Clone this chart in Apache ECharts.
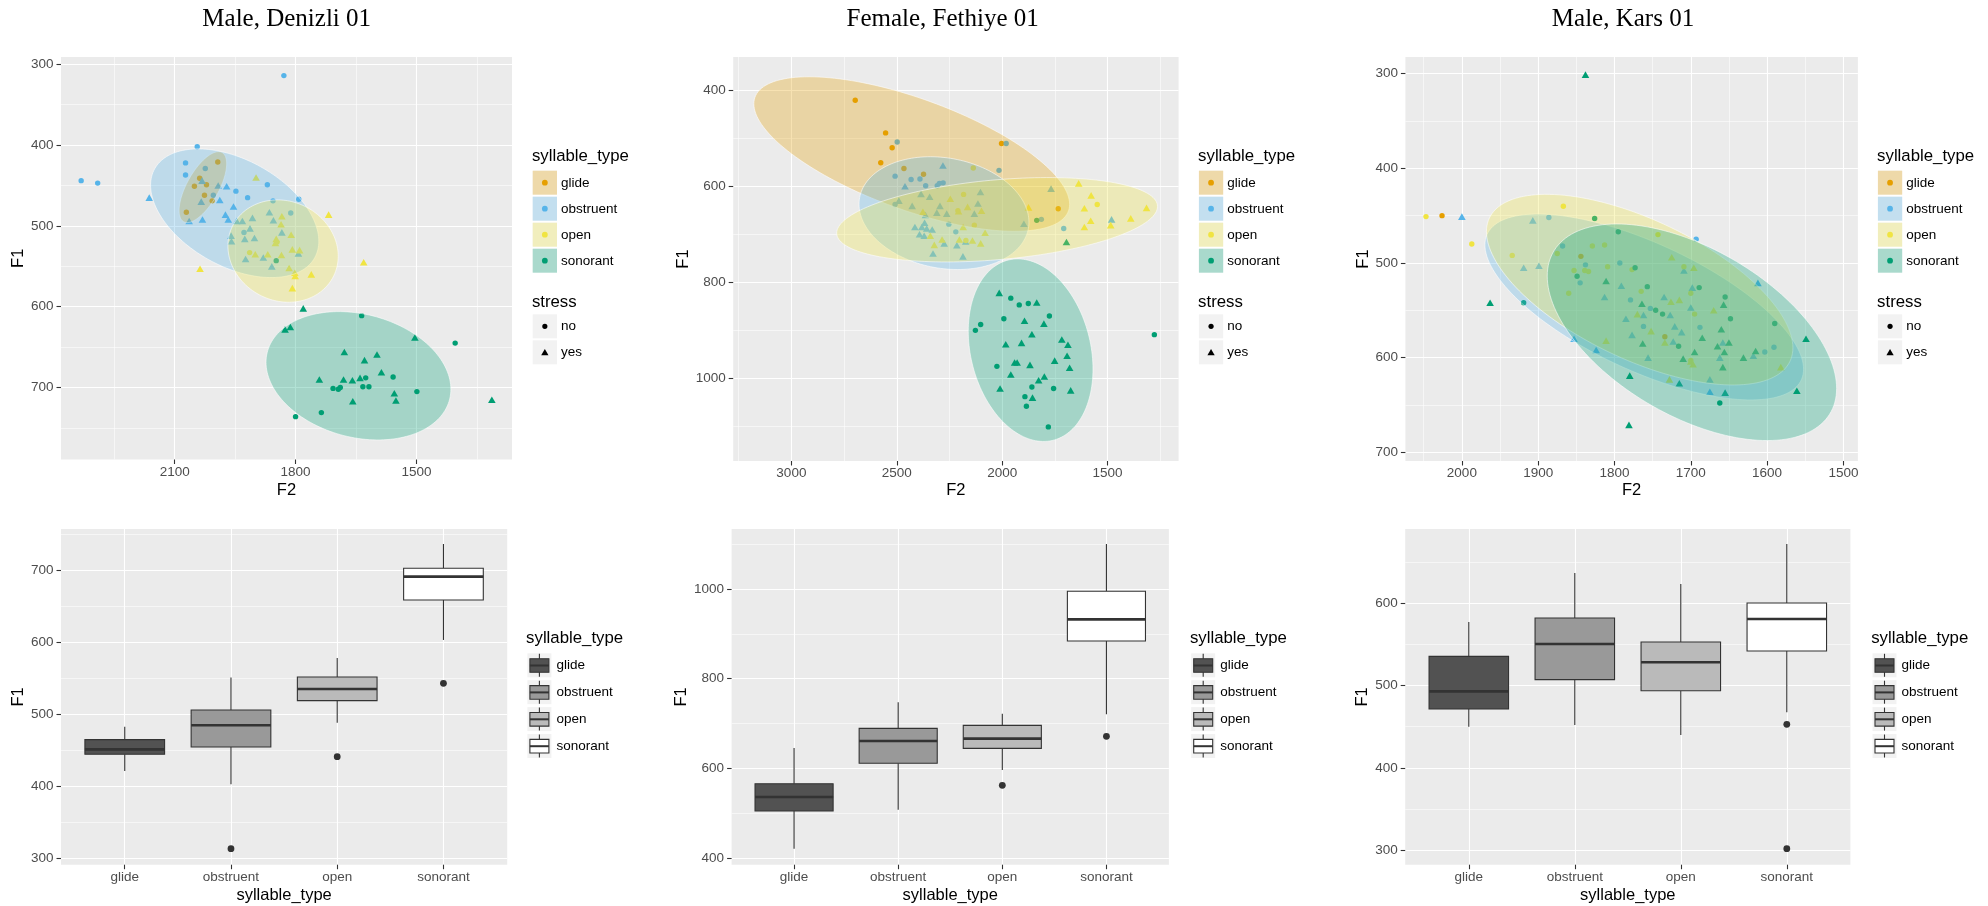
<!DOCTYPE html>
<html>
<head>
<meta charset="utf-8">
<script src="https://cdn.jsdelivr.net/npm/echarts@6/dist/echarts.min.js"></script>
<style>
html,body{margin:0;padding:0;background:#fff;}
#chart{width:1988px;height:906px;}
</style>
</head>
<body>
<div id="chart"></div>
<script>
// ---------------- DATA ----------------
const CATS = ['glide', 'obstruent', 'open', 'sonorant'];
const STRESS = ['no', 'yes'];            // 0 = no (circle), 1 = yes (triangle)
const PANEL_TITLES = ['Male, Denizli 01', 'Female, Fethiye 01', 'Male, Kars 01'];

// tick labels
const p1_xticks = [2100, 1800, 1500];
const p1_yticks = [300, 400, 500, 600, 700];
const p2_xticks = [3000, 2500, 2000, 1500];
const p2_yticks = [400, 600, 800, 1000];
const p3_xticks = [2000, 1900, 1800, 1700, 1600, 1500];
const p3_yticks = [300, 400, 500, 600, 700];
const p4_yticks = [300, 400, 500, 600, 700];
const p5_yticks = [400, 600, 800, 1000];
const p6_yticks = [300, 400, 500, 600];

// scatter points: [F2, F1, stress]
const p1_glide = [[1993,421,0],[2038,441,0],[2051,451,0],[2021,449,0],[2026,462,0],[2007,469,0],[2071,483,0]];
const p1_obstruent = [
  [1829,314,0],[2332,444,0],[2291,447,0],[2044,402,0],[2073,422,0],[2073,437,0],[2024,429,0],[2004,462,0],
  [1948,457,0],[1919,465,0],[1870,449,0],[1856,469,0],[1792,467,0],[1812,484,0],[1928,508,0],
  [2163,465,1],[2032,444,1],[2034,470,1],[2064,494,1],[2031,492,1],[1992,450,1],[1971,451,1],[1988,468,1],
  [1974,486,1],[1967,492,1],[1954,476,1],[1946,494,1],[1960,512,1],[1959,519,1],[1932,494,1],[1926,516,1],
  [1913,503,1],[1907,490,1],[1902,515,1],[1924,541,1],[1865,483,1],[1855,493,1],[1834,508,1],[1880,539,1],
  [1859,550,1],[1793,534,1]];
const p1_open = [
  [1914,533,0],[1846,520,0],
  [1898,440,1],[2037,553,1],[1900,535,1],[1869,535,1],[1834,488,1],[1836,498,1],[1848,516,1],[1850,521,1],
  [1835,536,1],[1811,511,1],[1808,529,1],[1790,530,1],[1816,552,1],[1801,562,1],[1802,558,1],[1808,577,1],
  [1761,560,1],[1718,486,1],[1631,545,1]];
const p1_sonorant = [
  [1848,543,0],[1636,611,0],[1404,645,0],[1707,701,0],[1694,702,0],[1689,700,0],[1633,699,0],[1626,688,0],
  [1618,699,0],[1558,687,0],[1499,705,0],[1736,731,0],[1800,736,0],
  [1781,602,1],[1826,628,1],[1813,625,1],[1679,656,1],[1629,666,1],[1598,659,1],[1504,638,1],[1587,681,1],
  [1741,690,1],[1681,690,1],[1659,691,1],[1640,688,1],[1658,717,1],[1555,707,1],[1551,716,1],[1313,715,1]];

const p2_glide = [[2697,421,0],[2553,489,0],[2522,520,0],[2576,551,0],[2466,563,0],[2373,575,0],[2003,511,0],[1734,647,0]];
const p2_obstruent = [
  [2498,508,0],[1981,511,0],[2015,567,0],[2508,579,0],[2432,586,0],[2390,585,0],[2363,599,0],[2308,599,0],
  [2298,594,0],[2280,593,0],[2508,638,0],[2253,679,0],[2220,695,0],[1708,688,0],[1814,669,0],
  [2281,557,1],[2461,600,1],[2490,630,1],[2385,616,1],[2344,622,1],[2427,641,1],[2310,655,1],[2295,641,1],
  [2263,657,1],[2364,660,1],[2414,685,1],[2381,685,1],[2368,676,1],[2392,700,1],[2370,703,1],[2358,688,1],
  [2332,690,1],[2328,740,1],[2275,719,1],[2215,723,1],[2186,746,1],[2173,715,1],[2115,636,1],[2103,612,1],
  [1897,678,1],[1481,669,1],[2132,657,1],[1768,605,1]];
const p2_open = [
  [2137,562,0],[1549,638,0],[2183,617,0],[2210,651,0],[2132,681,0],[2172,713,0],
  [1637,594,1],[1578,619,1],[1610,646,1],[1580,672,1],[1610,685,1],[1485,681,1],[1390,667,1],[1315,645,1],
  [1875,644,1],[2246,626,1],[2207,652,1],[2164,643,1],[2185,685,1],[2098,651,1],[2376,653,1],[2341,703,1],
  [2322,722,1],[2285,711,1],[2203,711,1],[2141,713,1],[2102,719,1],[2081,697,1]];
const p2_sonorant = [
  [1278,909,0],[1959,833,0],[1919,847,0],[1876,844,0],[1992,876,0],[1776,870,0],[2102,888,0],[2127,900,0],
  [2025,975,0],[1859,1018,0],[1892,1038,0],[1885,1058,0],[1756,1021,0],[1781,1101,0],[1836,671,0],
  [2014,822,1],[1836,842,1],[1894,880,1],[1802,886,1],[1859,908,1],[1983,929,1],[1908,926,1],[1717,919,1],
  [1688,930,1],[1692,953,1],[1751,963,1],[1941,967,1],[1929,967,1],[1868,972,1],[1680,978,1],[1959,992,1],
  [1827,1004,1],[1800,996,1],[2010,1021,1],[1675,1025,1],[1856,1040,1],[1695,716,1]];

const p3_glide = [[2026,450,0],[1844,493,0],[1734,578,0]];
const p3_obstruent = [
  [1886,452,0],[1868,482,0],[1838,502,0],[1845,521,0],[1793,500,0],[1779,539,0],[1762,567,0],[1693,475,0],
  [1688,568,0],[1603,594,0],[1591,589,0],[1753,548,0],
  [2000,451,1],[1907,455,1],[1919,505,1],[1899,503,1],[1853,580,1],[1824,592,1],[1813,536,1],[1791,524,1],
  [1785,559,1],[1777,576,1],[1762,555,1],[1756,600,1],[1735,536,1],[1727,555,1],[1721,567,1],[1723,583,1],
  [1712,573,1],[1709,508,1],[1698,526,1],[1700,547,1],[1675,623,1],[1662,600,1],[1658,584,1],[1618,598,1],
  [1612,521,1],[1675,636,1]];
const p3_open = [
  [2047,451,0],[1987,480,0],[1934,492,0],[1867,440,0],[1875,490,0],[1860,532,0],[1853,508,0],[1839,508,0],
  [1834,509,0],[1829,482,0],[1813,481,0],[1809,504,0],[1777,507,0],[1765,530,0],[1743,470,0],[1709,504,0],
  [1700,532,0],[1695,554,0],[1700,603,0],
  [1725,494,1],[1696,505,1],[1770,554,1],[1752,572,1],[1734,584,1],[1726,541,1],[1715,539,1],[1728,623,1],
  [1700,604,1],[1697,607,1],[1670,550,1],[1582,610,1],[1811,582,1]];
const p3_sonorant = [
  [1826,453,0],[1795,467,0],[1773,505,0],[1849,514,0],[1757,525,0],[1746,550,0],[1737,554,0],[1716,588,0],
  [1689,526,0],[1655,536,0],[1648,559,0],[1590,564,0],[1662,648,0],[1919,542,0],
  [1838,301,1],[1963,542,1],[1781,671,1],[1780,619,1],[1715,627,1],[1655,637,1],[1561,635,1],[1549,580,1],
  [1615,593,1],[1631,600,1],[1650,584,1],[1656,594,1],[1658,610,1],[1665,588,1],[1660,570,1],[1657,544,1],
  [1685,579,1],[1695,594,1],[1710,601,1],[1763,585,1],[1764,543,1],[1811,519,1]];

// 95% data ellipses: [centre F2, centre F1, half-range F2, half-range F1, correlation]
const p1_ellipses = [[2030,452,59,43.9,0.66],[1951,484.3,208.7,79.6,-0.435],[1831,531.1,136.8,63.3,-0.1],[1644,685.4,229.3,79.4,-0.21]];
const p2_ellipses = [[2429,533,749,160.8,-0.65],[2276,656,403,117.4,-0.16],[2024,669.8,761,87.8,0.315],[1865,941.3,295.8,190,-0.207]];
const p3_ellipses = [null,[1761,546.5,208.8,98.2,-0.669],[1767,528.2,200.8,100.7,-0.609],[1698.5,573.2,189.6,114.4,-0.519]];

// boxplot stats per syllable type: [lower whisker, Q1, median, Q3, upper whisker]
const p4_box = [[420.8,444,450.9,464.4,482.4],[402.3,454.2,484.3,505.6,550.5],[488,518.5,534.7,551.4,577.8],[602.8,658.3,690.7,702.3,736.1]];
const p4_outliers = [['obstruent',313],['open',440.7],['sonorant',542.6]];
const p5_box = [[420.8,504.8,536,565.8,645.4],[507.8,611.2,661,689.2,747.2],[596.3,644.6,666.2,695.9,721.9],[720.4,884,932.3,994.8,1100.4]];
const p5_outliers = [['open',562.1],['sonorant',671.4]];
const p6_box = [[450,471.5,493,535.5,577.3],[452,507.2,550.5,582.2,636.9],[439.9,493.8,528.3,553,623.5],[467.5,542,581,600.4,672.2]];
const p6_outliers = [['sonorant',452.9],['sonorant',301.7]];

// ---------------- STYLE / LAYOUT ----------------
const FONT = "'Liberation Sans', Arial, Helvetica, sans-serif";
const SERIF = "'Liberation Serif', 'Times New Roman', serif";
const COLORS = ['#E69F00', '#56B4E9', '#F0E442', '#009E73'];
const BOX_FILLS = ['#525252', '#999999', '#BABABA', '#FFFFFF'];
function rgba(hex, a) { const n = parseInt(hex.slice(1), 16); return 'rgba(' + (n >> 16) + ',' + ((n >> 8) & 255) + ',' + (n & 255) + ',' + a + ')'; }

const scatterPanels = [
  {grid:{left:61, top:57, width:451, height:402.5}, x:[1263,2382], y:[291,789], xStep:300, yStep:100,
   xTicks:p1_xticks, yTicks:p1_yticks, pts:[p1_glide,p1_obstruent,p1_open,p1_sonorant], ells:p1_ellipses,
   xGap:22, yGap:33, title:PANEL_TITLES[0], titleX:286.7, legendX:532.7},
  {grid:{left:733.2, top:57, width:445.4, height:404}, x:[1163,3276], y:[331,1172], xStep:500, yStep:200,
   xTicks:p2_xticks, yTicks:p2_yticks, pts:[p2_glide,p2_obstruent,p2_open,p2_sonorant], ells:p2_ellipses,
   xGap:20.7, yGap:38.8, title:PANEL_TITLES[1], titleX:942.7, legendX:1198.9},
  {grid:{left:1405.4, top:57, width:452.5, height:404}, x:[1481,2074], y:[282.4,709.2], xStep:100, yStep:100,
   xTicks:p3_xticks, yTicks:p3_yticks, pts:[p3_glide,p3_obstruent,p3_open,p3_sonorant], ells:p3_ellipses,
   xGap:20.7, yGap:32, title:PANEL_TITLES[2], titleX:1623, legendX:1877.9}
];
const boxPanels = [
  {grid:{left:61, top:529, width:446.2, height:335.7}, y:[290.7,756.9], yStep:100, yTicks:p4_yticks, box:p4_box, out:p4_outliers, yGap:32, legendX:527.4},
  {grid:{left:731.6, top:529, width:437.3, height:335.7}, y:[385.1,1133.8], yStep:200, yTicks:p5_yticks, box:p5_box, out:p5_outliers, yGap:41.2, legendX:1191.2},
  {grid:{left:1405.2, top:529, width:445.2, height:335.7}, y:[282.2,690.4], yStep:100, yTicks:p6_yticks, box:p6_box, out:p6_outliers, yGap:33.2, legendX:1872.5}
];

function makeAxis(gridIndex, pos, range, step, ticks, inverse, minor, name, gap, fmt) {
  return {
    type: 'value', gridIndex: gridIndex, position: pos, min: range[0], max: range[1], inverse: inverse,
    minInterval: step, maxInterval: step,
    name: name, nameLocation: 'middle', nameGap: gap,
    nameTextStyle: {color: '#000000', fontSize: 16.5, fontFamily: FONT},
    axisLine: {show: false, onZero: false},
    axisTick: {show: true, inside: false, length: 4.5, customValues: ticks, lineStyle: {color: '#333333', width: 1.1}},
    axisLabel: {show: true, customValues: ticks, margin: pos === 'bottom' ? 5.5 : 7.5, color: '#4D4D4D',
      fontSize: 13.5, fontFamily: FONT, formatter: fmt || function (v) { return String(v); }},
    splitLine: {show: true, lineStyle: {color: '#FFFFFF', width: 1.1}},
    minorTick: {show: false, splitNumber: 2},
    minorSplitLine: {show: minor, lineStyle: {color: '#FFFFFF', width: 0.55}},
    splitArea: {show: false}
  };
}

const option = {animation: false, backgroundColor: '#FFFFFF', grid: [], xAxis: [], yAxis: [], series: [], graphic: []};
const G = option.graphic;

function gridOf(g) {
  return Object.assign({show: true, backgroundColor: '#EBEBEB', borderWidth: 0, containLabel: false, outerBoundsMode: 'none'}, g);
}

function txt(x, y, text, size, opts) {
  return Object.assign({type: 'text', x: x, y: y, silent: true,
    style: Object.assign({text: text, font: size + 'px ' + FONT, fill: '#000000', textAlign: 'left', textVerticalAlign: 'middle', align: 'left', verticalAlign: 'middle'}, opts || {})});
}

// ----- scatter panels -----
scatterPanels.forEach(function (P, i) {
  option.grid.push(gridOf(P.grid));
  option.xAxis.push(makeAxis(i, 'bottom', P.x, P.xStep, P.xTicks, true, true, 'F2', P.xGap));
  option.yAxis.push(makeAxis(i, 'left', P.y, P.yStep, P.yTicks, true, true, 'F1', P.yGap));
  P.pts.forEach(function (pts, c) {
    option.series.push({
      type: 'scatter', name: CATS[c], xAxisIndex: i, yAxisIndex: i, data: pts, silent: true, z: 2,
      symbol: function (v) { return v[2] === 1 ? 'triangle' : 'circle'; },
      symbolSize: function (v) { return v[2] === 1 ? [7.6, 6.6] : 5.4; },
      itemStyle: {color: COLORS[c], opacity: 1}
    });
  });
  P.ells.forEach(function (e, c) {
    if (!e) return;
    option.series.push({
      type: 'custom', name: CATS[c] + ' ellipse', xAxisIndex: i, yAxisIndex: i, coordinateSystem: 'cartesian2d',
      data: [e], silent: true, z: 3,
      renderItem: function (params, api) {
        const cx = api.value(0), cy = api.value(1), wx = api.value(2), wy = api.value(3), r = api.value(4);
        const s = Math.sqrt(1 - r * r);
        const pts = [];
        for (let k = 0; k < 160; k++) {
          const t = 2 * Math.PI * k / 160;
          pts.push(api.coord([cx + wx * Math.cos(t), cy + wy * (r * Math.cos(t) + s * Math.sin(t))]));
        }
        return {type: 'polygon', shape: {points: pts},
          style: {fill: rgba(COLORS[c], 0.3), stroke: 'rgba(255,255,255,0.55)', lineWidth: 1}};
      }
    });
  });
  // title
  G.push({type: 'text', x: P.titleX, y: 19, silent: true,
    style: {text: P.title, font: '25px ' + SERIF, fill: '#000000', textAlign: 'center', textVerticalAlign: 'middle', align: 'center', verticalAlign: 'middle'}});
  // legend
  const lx = P.legendX;
  G.push(txt(lx - 0.8, 156.5, 'syllable_type', 16.8));
  CATS.forEach(function (name, c) {
    const y = 170.7 + 26 * c;
    G.push({type: 'rect', silent: true, shape: {x: lx, y: y, width: 24.3, height: 24}, style: {fill: '#F2F2F2'}});
    G.push({type: 'rect', silent: true, shape: {x: lx, y: y, width: 24.3, height: 24}, style: {fill: rgba(COLORS[c], 0.3)}});
    G.push({type: 'circle', silent: true, shape: {cx: lx + 12.15, cy: y + 12, r: 2.9}, style: {fill: COLORS[c]}});
    G.push(txt(lx + 28.3, y + 12.3, name, 13.5));
  });
  G.push(txt(lx - 0.8, 302, 'stress', 16.8));
  STRESS.forEach(function (name, s) {
    const y = 314.3 + 26 * s;
    G.push({type: 'rect', silent: true, shape: {x: lx, y: y, width: 24.3, height: 24}, style: {fill: '#F2F2F2'}});
    if (s === 0) {
      G.push({type: 'circle', silent: true, shape: {cx: lx + 12.15, cy: y + 12, r: 2.6}, style: {fill: '#000000'}});
    } else {
      G.push({type: 'polygon', silent: true, shape: {points: [[lx + 12.15, y + 8.8], [lx + 15.8, y + 15], [lx + 8.5, y + 15]]}, style: {fill: '#000000'}});
    }
    G.push(txt(lx + 28.3, y + 12.3, name, 13.5));
  });
});

// ----- box panels -----
boxPanels.forEach(function (P, j) {
  const i = j + 3;
  option.grid.push(gridOf(P.grid));
  option.xAxis.push(makeAxis(i, 'bottom', [0.4, 4.6], 1, [1, 2, 3, 4], false, false, 'syllable_type', 22,
    function (v) { return CATS[Math.round(v) - 1] || ''; }));
  option.yAxis.push(makeAxis(i, 'left', P.y, P.yStep, P.yTicks, false, true, 'F1', P.yGap));
  option.series.push({
    type: 'custom', name: 'boxplot', xAxisIndex: i, yAxisIndex: i, coordinateSystem: 'cartesian2d', silent: true, z: 2,
    data: P.box.map(function (b, c) { return [c + 1].concat(b); }),
    renderItem: function (params, api) {
      const x = api.value(0);
      const lo = api.coord([x, api.value(1)]), q1 = api.coord([x, api.value(2)]), md = api.coord([x, api.value(3)]),
            q3 = api.coord([x, api.value(4)]), hi = api.coord([x, api.value(5)]);
      const hw = api.size([0.75, 0])[0] / 2;
      const st = {stroke: '#333333', lineWidth: 1.1};
      return {type: 'group', children: [
        {type: 'line', shape: {x1: lo[0], y1: lo[1], x2: q1[0], y2: q1[1]}, style: st},
        {type: 'line', shape: {x1: q3[0], y1: q3[1], x2: hi[0], y2: hi[1]}, style: st},
        {type: 'rect', shape: {x: q1[0] - hw, y: q3[1], width: 2 * hw, height: q1[1] - q3[1]},
          style: {fill: BOX_FILLS[params.dataIndex], stroke: '#333333', lineWidth: 1.1}},
        {type: 'line', shape: {x1: md[0] - hw, y1: md[1], x2: md[0] + hw, y2: md[1]}, style: {stroke: '#333333', lineWidth: 2.6}}
      ]};
    }
  });
  option.series.push({
    type: 'scatter', name: 'outliers', xAxisIndex: i, yAxisIndex: i, silent: true, z: 3,
    data: P.out.map(function (o) { return [CATS.indexOf(o[0]) + 1, o[1]]; }),
    symbol: 'circle', symbolSize: 6.8, itemStyle: {color: '#333333', opacity: 1}
  });
  // legend
  const lx = P.legendX;
  G.push(txt(lx - 1.3, 638.8, 'syllable_type', 16.8));
  CATS.forEach(function (name, c) {
    const y = 653.3 + 26.9 * c;
    G.push({type: 'rect', silent: true, shape: {x: lx, y: y, width: 24, height: 24}, style: {fill: '#F2F2F2'}});
    G.push({type: 'line', silent: true, shape: {x1: lx + 12, y1: y + 0.5, x2: lx + 12, y2: y + 23.5}, style: {stroke: '#333333', lineWidth: 1.1}});
    G.push({type: 'rect', silent: true, shape: {x: lx + 2.5, y: y + 5.4, width: 19, height: 13.6}, style: {fill: BOX_FILLS[c], stroke: '#333333', lineWidth: 1.1}});
    G.push({type: 'line', silent: true, shape: {x1: lx + 2.5, y1: y + 12.2, x2: lx + 21.5, y2: y + 12.2}, style: {stroke: '#333333', lineWidth: 2}});
    G.push(txt(lx + 29, y + 12.3, name, 13.5));
  });
});

const chart = echarts.init(document.getElementById('chart'), null, {renderer: 'canvas', width: 1988, height: 906});
chart.setOption(option);
</script>
</body>
</html>
